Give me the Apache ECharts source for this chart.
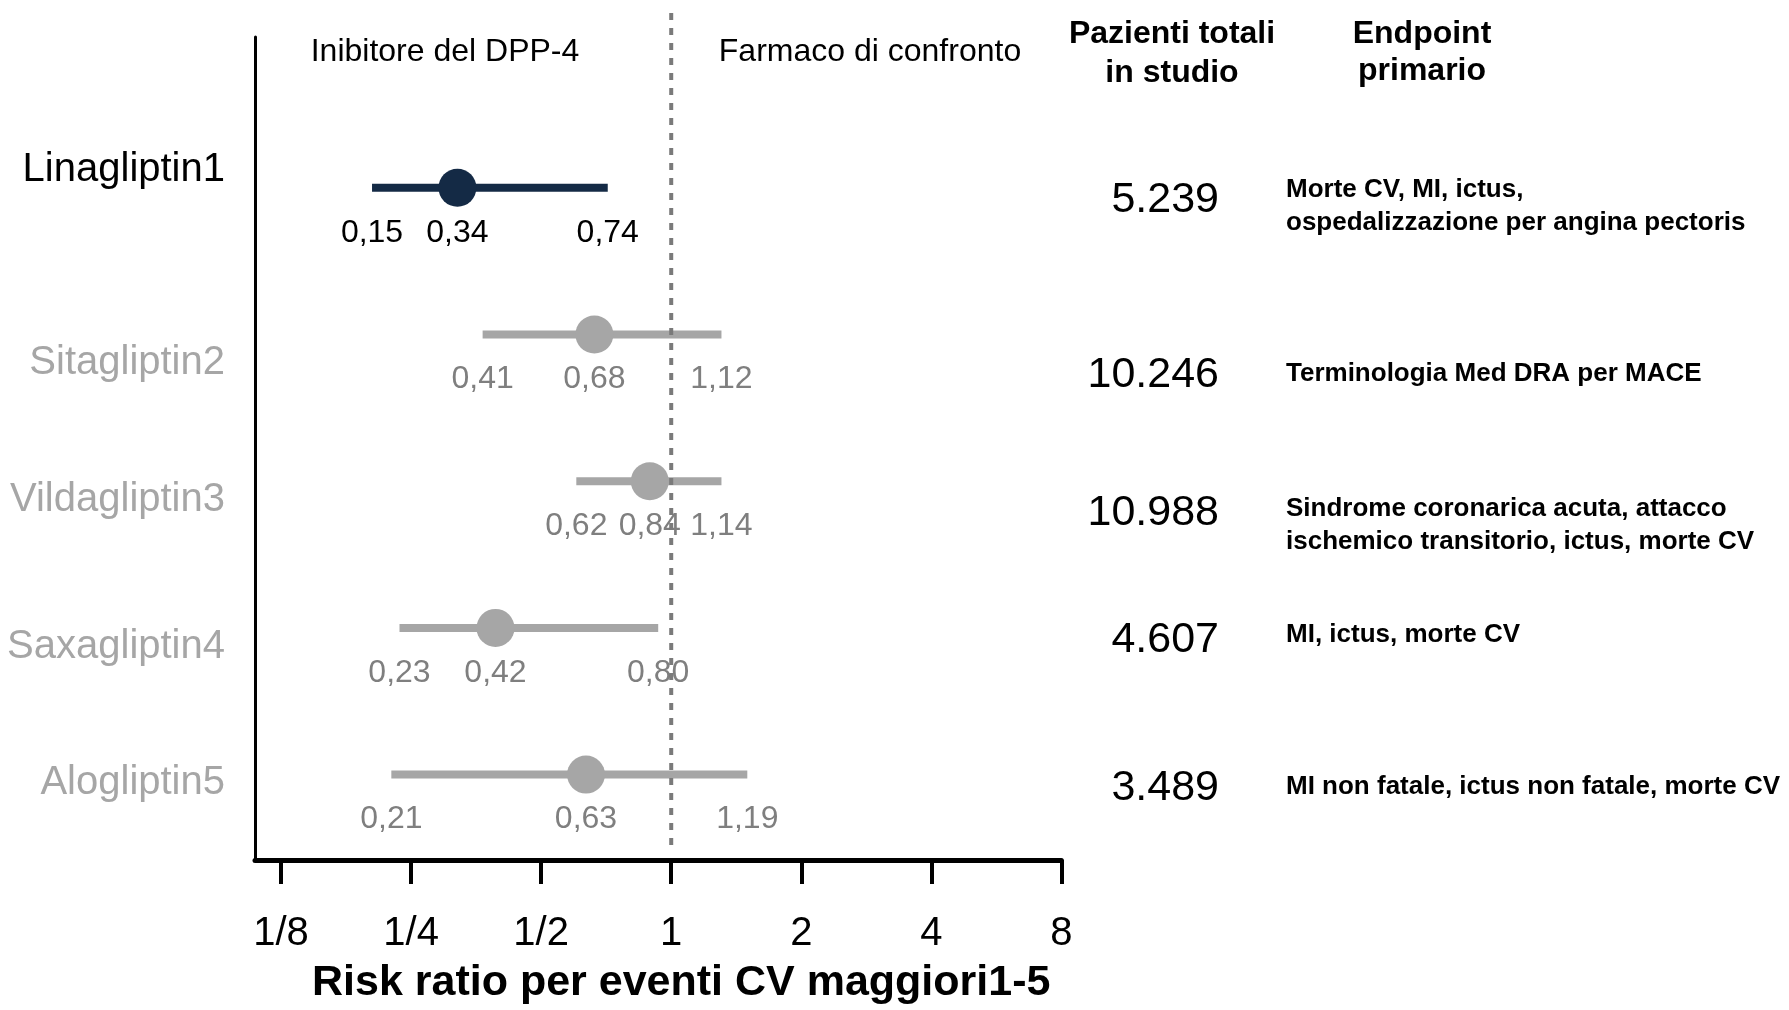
<!DOCTYPE html>
<html><head><meta charset="utf-8">
<script src="https://cdn.jsdelivr.net/npm/echarts@6/dist/echarts.min.js"></script>
<style>html,body{margin:0;padding:0;background:#fff}#c{width:1789px;height:1010px}</style>
</head><body><div id="c"></div>
<script>
// ---------- data ----------
const drugs = ['Linagliptin1', 'Sitagliptin2', 'Vildagliptin3', 'Saxagliptin4', 'Alogliptin5'];
// values printed in the chart (risk ratio and 95% CI)
const rrPrinted = [0.34, 0.68, 0.84, 0.42, 0.63];
const lowPrinted = [0.15, 0.41, 0.62, 0.23, 0.21];
const highPrinted = [0.74, 1.12, 1.14, 0.80, 1.19];
// where the marks sit on the log axis in the picture
const rrDrawn = [0.320, 0.664, 0.892, 0.392, 0.635];
const lowDrawn = [0.203, 0.366, 0.603, 0.235, 0.225];
const highDrawn = [0.713, 1.307, 1.307, 0.933, 1.50];
const patients = [5239, 10246, 10988, 4607, 3489];
const endpoints = [
  'Morte CV, MI, ictus,\nospedalizzazione per angina pectoris',
  'Terminologia Med DRA per MACE',
  'Sindrome coronarica acuta, attacco\nischemico transitorio, ictus, morte CV',
  'MI, ictus, morte CV',
  'MI non fatale, ictus non fatale, morte CV'
];
const tickValues = [0.125, 0.25, 0.5, 1, 2, 4, 8];
const tickLabels = ['1/8', '1/4', '1/2', '1', '2', '4', '8'];
const axisMinValue = 0.1088;
const axisMaxValue = 8;
const headerLeft = 'Inibitore del DPP-4';
const headerRight = 'Farmaco di confronto';
const headerPatients = 'Pazienti totali\nin studio';
const headerEndpoint = 'Endpoint\nprimario';
const axisTitle = 'Risk ratio per eventi CV maggiori1-5';

// ---------- layout / style ----------
const FONT = "'Liberation Sans', Arial, sans-serif";
const rowColors = ['#142a45', '#a6a6a6', '#a6a6a6', '#a6a6a6', '#a6a6a6'];
const catColors = ['#000000', '#a6a6a6', '#a6a6a6', '#a6a6a6', '#a6a6a6'];
const valColors = ['#000000', '#7f7f7f', '#7f7f7f', '#7f7f7f', '#7f7f7f'];
const catPad = [[0, 0, 36, 0], [56, 0, 0, 0], [38, 0, 0, 0], [38, 0, 0, 0], [17, 0, 0, 0]];
const numY = [200, 375, 513, 640, 788];
const endY = [206, 374, 525, 635, 787];

const L = v => Math.log2(v);
const fmtDec = v => v.toFixed(2).replace('.', ',');
const fmtInt = v => String(v).replace(/\B(?=(\d{3})+(?!\d))/g, '.');

const GRID_L = 255, GRID_R = 1789 - 1061.4;

const chart = echarts.init(document.getElementById('c'), null, {renderer: 'canvas'});

const rich = {};
drugs.forEach((d, i) => {
  rich['r' + i] = {color: catColors[i], fontSize: 40, fontFamily: FONT, padding: catPad[i]};
});

const seriesData = drugs.map((d, i) => [L(lowDrawn[i]), L(rrDrawn[i]), L(highDrawn[i]), i]);

const option = {
  animation: false,
  backgroundColor: '#ffffff',
  grid: [
    {left: GRID_L, right: GRID_R, top: 37, bottom: 1010 - 872},
    {left: GRID_L, right: GRID_R, top: 114.45, bottom: 1010 - 847.95}
  ],
  xAxis: [
    {
      gridIndex: 0, type: 'value', min: L(axisMinValue), max: L(axisMaxValue),
      axisLine: {show: true, onZero: false, lineStyle: {color: '#000', width: 5}},
      axisTick: {show: true, customValues: tickValues.map(L), length: 24, lineStyle: {color: '#000', width: 4}},
      axisLabel: {
        show: true, customValues: tickValues.map(L), margin: 54,
        fontSize: 40, color: '#000', fontFamily: FONT,
        formatter: v => {
          const k = tickValues.findIndex(t => Math.abs(L(t) - v) < 1e-6);
          return k >= 0 ? tickLabels[k] : '';
        }
      },
      splitLine: {show: false},
      name: axisTitle, nameLocation: 'middle', nameGap: 102,
      nameTextStyle: {fontSize: 43, fontWeight: 'bold', color: '#000', fontFamily: FONT, padding: [0, 0, 0, 46]}
    },
    {
      gridIndex: 1, type: 'value', min: L(axisMinValue), max: L(axisMaxValue), show: false
    }
  ],
  yAxis: [
    {
      gridIndex: 0, type: 'value', min: 0, max: 1,
      axisLine: {show: true, onZero: false, lineStyle: {color: '#000', width: 3}},
      axisTick: {show: false}, axisLabel: {show: false}, splitLine: {show: false}
    },
    {
      gridIndex: 1, type: 'category', data: drugs, inverse: true,
      axisLine: {show: false}, axisTick: {show: false}, splitLine: {show: false},
      axisLabel: {
        margin: 30, rich: rich,
        formatter: (v, idx) => '{r' + idx + '|' + v + '}'
      }
    }
  ],
  series: [
    {
      type: 'custom', xAxisIndex: 1, yAxisIndex: 1, z: 3,
      encode: {x: [0, 1, 2], y: 3},
      data: seriesData,
      renderItem: (params, api) => {
        const i = api.value(3);
        const pl = api.coord([api.value(0), i]);
        const pp = api.coord([api.value(1), i]);
        const ph = api.coord([api.value(2), i]);
        const col = rowColors[i];
        const txt = (x, y, s) => ({
          type: 'text', x: x, y: y,
          style: {text: s, fill: valColors[i], fontSize: 32, fontFamily: FONT, align: 'center', verticalAlign: 'middle'}
        });
        return {
          type: 'group',
          children: [
            {type: 'line', shape: {x1: pl[0], y1: pl[1], x2: ph[0], y2: ph[1]}, style: {stroke: col, lineWidth: 8, lineCap: 'butt'}},
            {type: 'circle', shape: {cx: pp[0], cy: pp[1], r: 19}, style: {fill: col}},
            txt(pl[0], pl[1] + 45, fmtDec(lowPrinted[i])),
            txt(pp[0], pp[1] + 45, fmtDec(rrPrinted[i])),
            txt(ph[0], ph[1] + 45, fmtDec(highPrinted[i]))
          ]
        };
      }
    }
  ]
};
chart.setOption(option);

// reference line at RR = 1 and text columns
const x1 = chart.convertToPixel({xAxisIndex: 0}, L(1));
const graphics = [
  {type: 'line', z: 100, shape: {x1: x1, y1: 13, x2: x1, y2: 853},
   style: {stroke: '#7a7a7a', lineWidth: 4, lineDash: [7, 8]}},
  {type: 'text', x: 445, y: 52, style: {text: headerLeft, fontSize: 32, fontFamily: FONT, fill: '#000', align: 'center', verticalAlign: 'middle'}},
  {type: 'text', x: 870, y: 52, style: {text: headerRight, fontSize: 32, fontFamily: FONT, fill: '#000', align: 'center', verticalAlign: 'middle'}},
  {type: 'text', x: 1172, y: 54, style: {text: headerPatients, fontSize: 32, fontWeight: 'bold', lineHeight: 39, fontFamily: FONT, fill: '#000', align: 'center', verticalAlign: 'middle'}},
  {type: 'text', x: 1422, y: 53, style: {text: headerEndpoint, fontSize: 32, fontWeight: 'bold', lineHeight: 37, fontFamily: FONT, fill: '#000', align: 'center', verticalAlign: 'middle'}}
];
patients.forEach((p, i) => {
  graphics.push({type: 'text', x: 1219, y: numY[i], style: {text: fmtInt(p), fontSize: 43, fontFamily: FONT, fill: '#000', align: 'right', verticalAlign: 'middle'}});
});
endpoints.forEach((e, i) => {
  graphics.push({type: 'text', x: 1286, y: endY[i], style: {text: e, fontSize: 26, fontWeight: 'bold', lineHeight: 33, fontFamily: FONT, fill: '#000', align: 'left', verticalAlign: 'middle'}});
});
chart.setOption({graphic: graphics});
</script>
</body></html>
